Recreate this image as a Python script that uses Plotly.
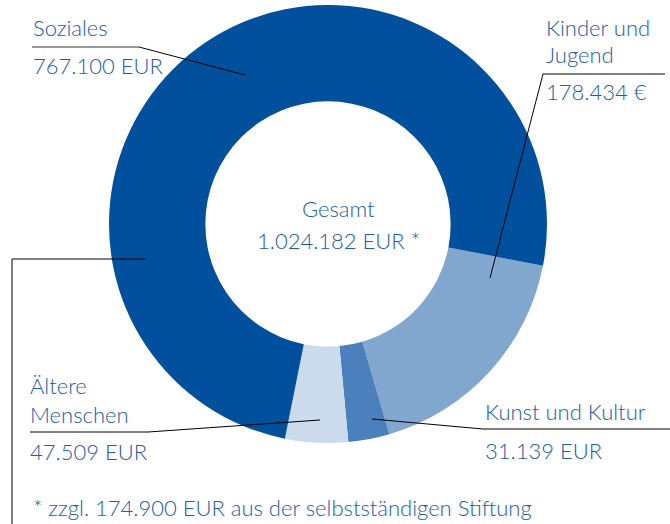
import plotly.graph_objects as go

W, H = 670, 524

categories = ["Kinder und Jugend", "Kunst und Kultur", "Ältere Menschen", "Soziales"]
values = [178434, 31139, 47509, 767100]
colors = ["#82A7CF", "#4C80BC", "#CBDBEB", "#00509E"]

value_labels = {
    "Soziales": "767.100 EUR",
    "Kinder und Jugend": "178.434 €",
    "Kunst und Kultur": "31.139 EUR",
    "Ältere Menschen": "47.509 EUR",
}
total_label = "1.024.182 EUR *"
footnote = "* zzgl. 174.900 EUR aus der selbstständigen Stiftung"

TXT = "#225DAA"
FONT = "Lato"

def px(x):
    return x / W

def py(y):
    return 1 - y / H

cx, cy, R = 328, 224, 219

fig = go.Figure(go.Pie(
    labels=categories, values=values, sort=False, direction="clockwise",
    rotation=101, hole=0.56,
    marker=dict(colors=colors, line=dict(width=0)),
    textinfo="none", hoverinfo="label+value", showlegend=False,
    domain=dict(x=[px(cx - R), px(cx + R)], y=[py(cy + R), py(cy - R)]),
))

texts = [
    ("Soziales", 31, 28, "left"),
    (value_labels["Soziales"], 31, 66, "left"),
    ("Kinder und", 544, 28, "left"),
    ("Jugend", 544, 55, "left"),
    (value_labels["Kinder und Jugend"], 544, 92, "left"),
    ("Gesamt", 338, 208, "center"),
    (total_label, 338, 240, "center"),
    ("Ältere", 28, 385, "left"),
    ("Menschen", 28, 414, "left"),
    (value_labels["Ältere Menschen"], 28, 451, "left"),
    ("Kunst und Kultur", 483, 411, "left"),
    (value_labels["Kunst und Kultur"], 483, 450, "left"),
    (footnote, 31, 507, "left"),
]
for t, x, y, anc in texts:
    fig.add_annotation(text=t, x=px(x), y=py(y), xref="paper", yref="paper",
                       xanchor=anc, yanchor="middle", showarrow=False,
                       font=dict(family=FONT, size=22, color=TXT, weight=300))

def poly(points, color="#000000", width=1):
    d = "M " + " L ".join(f"{px(x)},{py(y)}" for x, y in points)
    fig.add_shape(type="path", path=d, xref="paper", yref="paper",
                  line=dict(color=color, width=width))

poly([(32, 47), (139, 47)], color="#777777", width=1.5)
poly([(139, 47), (245, 75)])
poly([(490, 278), (543, 74), (665, 74)])
poly([(12, 524), (12, 259)], color="#555555", width=1.5)
poly([(12, 259), (146, 259)])
poly([(30, 432), (148, 432), (320, 420)])
poly([(372, 419), (483, 429), (670, 429)], color="#000000")

fig.update_layout(width=W, height=H, margin=dict(l=0, r=0, t=0, b=0),
                  paper_bgcolor="white", plot_bgcolor="white")
fig.write_html("out.html", config={"displayModeBar": False},
               post_script="document.body.style.margin='0';document.body.style.padding='0';")
